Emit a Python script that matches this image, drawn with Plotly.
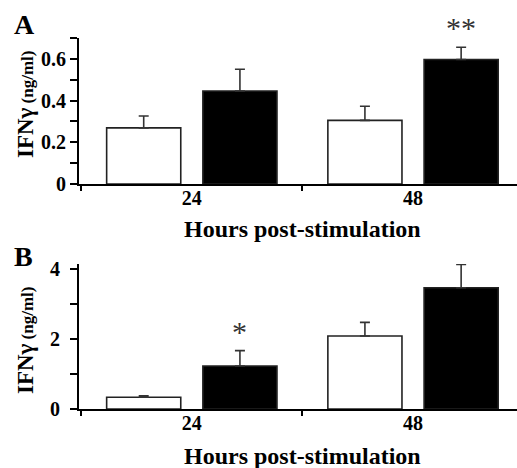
import plotly.graph_objects as go

# ---- data ----
hours = ["24", "48"]
a_control = [0.269, 0.305]
a_control_err = [0.057, 0.068]
a_treated = [0.446, 0.597]
a_treated_err = [0.104, 0.059]
b_control = [0.335, 2.09]
b_control_err = [0.045, 0.39]
b_treated = [1.23, 3.47]
b_treated_err = [0.44, 0.67]
a_yticks = [0, 0.2, 0.4, 0.6]
a_yticklabels = ["0", "0.2", "0.4", "0.6"]
b_yticks = [0, 2, 4]
b_yticklabels = ["0", "2", "4"]
a_sig = ["", "**"]
b_sig = ["*", ""]
x_title = "Hours post-stimulation"
y_title = "<span style='font-size:23px'>IFNγ</span> (ng/ml)"

W, H = 517, 468
SERIF = "Liberation Serif"


def fx(p):
    return p / W


def fy(p):
    return 1 - p / H


BAR_W = 0.335
C_OFF = -0.385
T_OFF = 0.05

fig = go.Figure()

panels = [
    ("x", "y", a_control, a_control_err, a_treated, a_treated_err),
    ("x2", "y2", b_control, b_control_err, b_treated, b_treated_err),
]
for xa, ya, c, ce, t, te in panels:
    fig.add_bar(
        x=hours, y=c, xaxis=xa, yaxis=ya, showlegend=False,
        width=BAR_W, offset=C_OFF,
        marker=dict(color="white", line=dict(color="#222", width=1.6)),
        error_y=dict(type="data", array=ce, arrayminus=[0] * len(ce), symmetric=False,
                     color="#333", thickness=1.6, width=5),
    )
    fig.add_bar(
        x=hours, y=t, xaxis=xa, yaxis=ya, showlegend=False,
        width=BAR_W, offset=T_OFF,
        marker=dict(color="black", line=dict(color="#222", width=1.6)),
        error_y=dict(type="data", array=te, arrayminus=[0] * len(te), symmetric=False,
                     color="#333", thickness=1.6, width=5),
    )

tickfont = dict(family=SERIF, size=20, color="black", weight="bold")
xcommon = dict(
    type="category", range=[-0.51, 1.47], showline=True, linecolor="black", linewidth=2,
    ticks="outside", tickson="boundaries", ticklen=5, tickwidth=2, tickcolor="black",
    showgrid=False, zeroline=False, tickfont=tickfont, domain=[fx(79), 1.0],
    ticklabelstandoff=-5, automargin=False,
)
ycommon = dict(
    showline=True, linecolor="black", linewidth=2, ticks="outside", ticklen=7,
    tickwidth=2, tickcolor="black", showgrid=False, zeroline=False, tickfont=tickfont,
    automargin=False,
)

fig.update_layout(
    template="none",
    width=W, height=H, margin=dict(l=0, r=0, t=0, b=0, pad=0, autoexpand=False),
    paper_bgcolor="white", plot_bgcolor="white",
    barmode="overlay",
    xaxis=dict(**xcommon, anchor="y"),
    xaxis2=dict(**xcommon, anchor="y2"),
    yaxis=dict(**ycommon, anchor="x", domain=[fy(184), fy(38)], range=[0, 0.7],
               tickmode="array", tickvals=a_yticks, ticktext=a_yticklabels,
               minor=dict(dtick=0.1, ticks="outside", ticklen=7, tickwidth=2, tickcolor="black")),
    yaxis2=dict(**ycommon, anchor="x2", domain=[fy(409), fy(264)], range=[0, 4.15],
                tickmode="array", tickvals=b_yticks, ticktext=b_yticklabels,
                ticklabelstandoff=6,
                minor=dict(dtick=1, ticks="outside", ticklen=7, tickwidth=2, tickcolor="black")),
)

ann = []
# panel letters
for letter, yc in (("A", 24), ("B", 256)):
    ann.append(dict(text=letter, x=fx(12), y=fy(yc), xref="paper", yref="paper", xanchor="left",
                    yanchor="middle", showarrow=False,
                    font=dict(family=SERIF, size=28, color="black", weight="bold")))
# y titles
for yc in (104, 340):
    ann.append(dict(text=y_title, x=fx(25), y=fy(yc), xref="paper", yref="paper",
                    xanchor="center", yanchor="middle", textangle=-90, showarrow=False,
                    font=dict(family=SERIF, size=17, color="black", weight="bold")))
# x titles
for yc in (229, 456):
    ann.append(dict(text=x_title, x=fx(302), y=fy(yc), xref="paper", yref="paper",
                    xanchor="center", yanchor="middle", showarrow=False,
                    font=dict(family=SERIF, size=24, color="black", weight="bold")))
# significance marks
for xa, ya, vals, errs, sig in (("x", "y", a_treated, a_treated_err, a_sig),
                                ("x2", "y2", b_treated, b_treated_err, b_sig)):
    for i, (v, e, s) in enumerate(zip(vals, errs, sig)):
        if s:
            ann.append(dict(text=s, x=i, y=v + e, xref=xa, yref=ya, xshift=48, yshift=1,
                            xanchor="center", yanchor="bottom", showarrow=False,
                            font=dict(family=SERIF, size=30, color="#333")))

fig.update_layout(annotations=ann)
fig.write_html("out.html", config={"displayModeBar": False},
               post_script="document.body.style.margin='0';")
